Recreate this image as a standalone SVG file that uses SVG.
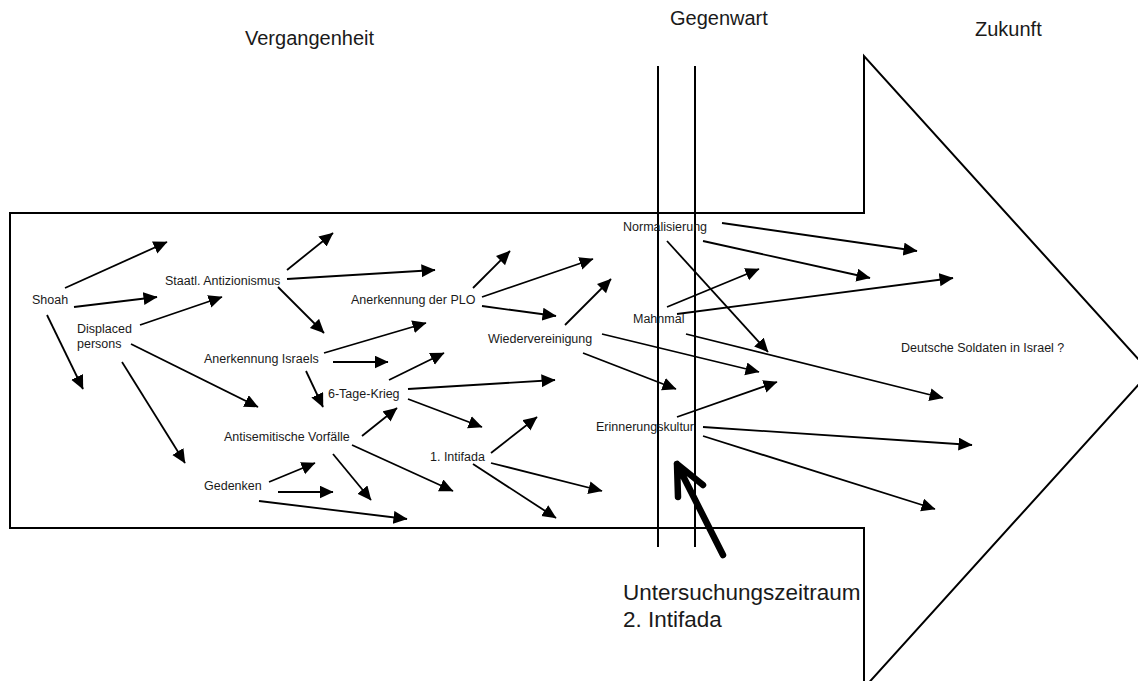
<svg xmlns="http://www.w3.org/2000/svg" width="1138" height="681" viewBox="0 0 1138 681">
<style>
text{font-family:"Liberation Sans",Arial,sans-serif;fill:#1a1a1a}
.lbl{font-size:12.5px}
.title{font-size:20px}
.big{font-size:22.5px}
.conn line{stroke:#000;stroke-width:1.8;marker-end:url(#ah)}
.frame{fill:none;stroke:#000;stroke-width:2}
</style>
<defs>
<marker id="ah" markerUnits="userSpaceOnUse" markerWidth="16" markerHeight="14" refX="13.5" refY="6.5" orient="auto">
<path d="M0,0 L14,6.5 L0,13 Z" fill="#000"/>
</marker>
</defs>
<rect width="1138" height="681" fill="#fff"/>
<g id="frame">
<path class="frame" d="M10,213 L864,213 L864,56 L1150,372 L864,688 L864,528 L10,528 Z"/>
<line class="frame" x1="658" y1="66" x2="658" y2="547"/>
<line class="frame" x1="695" y1="66" x2="695" y2="547"/>
</g>
<g id="titles">
<text class="title" x="245" y="45">Vergangenheit</text>
<text class="title" x="670" y="25">Gegenwart</text>
<text class="title" x="975" y="36">Zukunft</text>
</g>
<g class="conn" id="connectors">
<line x1="65" y1="288" x2="167" y2="242"/>
<line x1="74" y1="307" x2="157" y2="297"/>
<line x1="47" y1="315" x2="83" y2="389"/>
<line x1="140" y1="325" x2="222" y2="297"/>
<line x1="131" y1="344" x2="258" y2="407"/>
<line x1="122" y1="362" x2="185" y2="463"/>
<line x1="287" y1="270" x2="333" y2="233"/>
<line x1="287" y1="279" x2="435" y2="270"/>
<line x1="278" y1="287" x2="324" y2="333"/>
<line x1="324" y1="353" x2="426" y2="323"/>
<line x1="333" y1="362" x2="388" y2="362"/>
<line x1="306" y1="371" x2="323" y2="407"/>
<line x1="389" y1="380" x2="444" y2="353"/>
<line x1="408" y1="389" x2="555" y2="380"/>
<line x1="408" y1="399" x2="482" y2="427"/>
<line x1="362" y1="436" x2="397" y2="408"/>
<line x1="352" y1="445" x2="453" y2="491"/>
<line x1="333" y1="454" x2="371" y2="500"/>
<line x1="269" y1="482" x2="315" y2="463"/>
<line x1="278" y1="492" x2="333" y2="492"/>
<line x1="259" y1="501" x2="407" y2="519"/>
<line x1="491" y1="453" x2="537" y2="417"/>
<line x1="491" y1="463" x2="602" y2="491"/>
<line x1="473" y1="464" x2="556" y2="518"/>
<line x1="473" y1="288" x2="510" y2="251"/>
<line x1="482" y1="297" x2="593" y2="259"/>
<line x1="482" y1="306" x2="556" y2="316"/>
<line x1="565" y1="325" x2="611" y2="279"/>
<line x1="602" y1="334" x2="759" y2="372"/>
<line x1="583" y1="353" x2="676" y2="389"/>
<line x1="722" y1="223" x2="917" y2="251"/>
<line x1="703" y1="241" x2="870" y2="278"/>
<line x1="667" y1="241" x2="768" y2="352"/>
<line x1="667" y1="307" x2="759" y2="269"/>
<line x1="677" y1="314" x2="953" y2="278"/>
<line x1="686" y1="334" x2="943" y2="398"/>
<line x1="677" y1="417" x2="777" y2="382"/>
<line x1="703" y1="427" x2="972" y2="445"/>
<line x1="703" y1="436" x2="935" y2="509"/>
</g>
<g id="focus-arrow">
<path d="M723,555 L677,464 M678,497 L677,464 L703,485" fill="none" stroke="#000" stroke-width="6.5" stroke-linecap="round" stroke-linejoin="round"/>
</g>
<g id="n-shoah"><text class="lbl" x="32" y="304">Shoah</text></g>
<g id="n-displaced"><text class="lbl" x="77" y="333">Displaced</text><text class="lbl" x="77" y="348">persons</text></g>
<g id="n-staatl"><text class="lbl" x="165" y="285">Staatl. Antizionismus</text></g>
<g id="n-anerkennung-israels"><text class="lbl" x="204" y="363">Anerkennung Israels</text></g>
<g id="n-6tage"><text class="lbl" x="328" y="398">6-Tage-Krieg</text></g>
<g id="n-antisemitische"><text class="lbl" x="224" y="441">Antisemitische Vorfälle</text></g>
<g id="n-gedenken"><text class="lbl" x="204" y="490">Gedenken</text></g>
<g id="n-intifada1"><text class="lbl" x="430" y="461">1. Intifada</text></g>
<g id="n-plo"><text class="lbl" x="351" y="304">Anerkennung der PLO</text></g>
<g id="n-wiedervereinigung"><text class="lbl" x="488" y="343">Wiedervereinigung</text></g>
<g id="n-normalisierung"><text class="lbl" x="623" y="231">Normalisierung</text></g>
<g id="n-mahnmal"><text class="lbl" x="633" y="323">Mahnmal</text></g>
<g id="n-erinnerungskultur"><text class="lbl" x="596" y="431">Erinnerungskultur</text></g>
<g id="n-soldaten"><text class="lbl" x="901" y="352">Deutsche Soldaten in Israel ?</text></g>
<g id="n-untersuchung"><text class="big" x="623" y="600">Untersuchungszeitraum</text><text class="big" x="623" y="627">2. Intifada</text></g>
</svg>
